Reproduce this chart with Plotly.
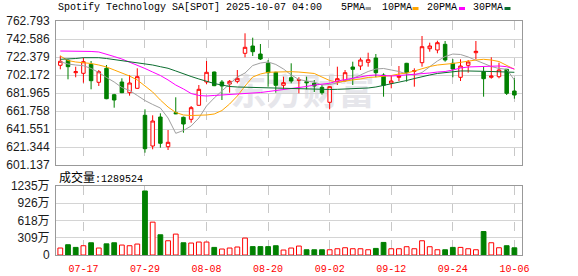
import plotly.graph_objects as go

# ---------------- data ----------------
dates = ["07-14", "07-15", "07-16", "07-17", "07-18", "07-21", "07-22", "07-23", "07-24", "07-25",
         "07-28", "07-29", "07-30", "07-31", "08-01", "08-04", "08-05", "08-06", "08-07", "08-08",
         "08-11", "08-12", "08-13", "08-14", "08-15", "08-18", "08-19", "08-20", "08-21", "08-22",
         "08-25", "08-26", "08-27", "08-28", "08-29", "09-02", "09-03", "09-04", "09-05", "09-08",
         "09-09", "09-10", "09-11", "09-12", "09-15", "09-16", "09-17", "09-18", "09-19", "09-22",
         "09-23", "09-24", "09-25", "09-26", "09-29", "09-30", "10-01", "10-02", "10-03", "10-06"]

opens = [713.06, 718.67, 704.75, 704.08, 714.18, 693.97, 709.69, 680.05, 694.31, 682.30,
         687.24, 656.93, 622.47, 655.02, 621.68, 659.85, 654.69, 652.44, 668.15, 694.31,
         705.54, 694.31, 692.07, 695.10, 726.53, 734.73, 725.75, 715.30, 705.20, 690.61,
         699.14, 696.22, 694.65, 692.85, 688.36, 671.52, 694.65, 695.77, 711.15, 712.27,
         716.43, 721.25, 702.17, 692.85, 699.59, 715.30, 706.32, 715.98, 731.69, 730.23,
         736.63, 715.30, 699.59, 713.06, 727.20, 705.87, 699.59, 700.26, 708.57, 684.21]
highs = [723.84, 719.80, 711.49, 721.59, 717.89, 707.78, 713.40, 681.00, 698.47, 702.17,
         709.69, 663.66, 656.93, 659.17, 640.43, 677.14, 655.50, 667.37, 690.94, 717.89,
         706.00, 696.56, 696.56, 707.78, 748.98, 744.04, 736.97, 719.01, 705.80, 700.26,
         715.30, 699.59, 700.26, 696.56, 690.94, 689.50, 711.49, 707.78, 717.10, 721.59,
         727.20, 725.75, 704.08, 702.17, 712.27, 715.80, 709.69, 745.95, 738.43, 740.67,
         740.34, 720.13, 719.80, 719.01, 740.34, 711.49, 722.04, 715.98, 709.00, 698.47]
lows = [708.57, 697.34, 699.59, 693.53, 686.12, 689.82, 675.00, 665.46, 681.80, 678.93,
        686.80, 614.94, 618.76, 620.56, 617.98, 658.20, 637.40, 648.62, 667.70, 691.73,
        689.70, 674.10, 682.30, 692.85, 722.04, 723.50, 719.01, 689.04, 682.30, 686.79,
        692.85, 681.63, 686.12, 683.09, 680.05, 663.66, 690.94, 694.65, 690.94, 707.78,
        711.49, 699.59, 677.81, 687.24, 695.43, 694.65, 689.04, 711.49, 728.33, 726.53,
        717.10, 699.59, 695.43, 704.75, 719.80, 677.81, 698.02, 698.47, 679.72, 675.56]
closes = [717.55, 711.49, 705.87, 717.10, 695.77, 705.87, 675.56, 674.10, 682.30, 693.19,
          700.26, 619.43, 650.53, 625.50, 626.62, 658.72, 647.16, 665.46, 686.12, 705.20,
          690.16, 689.82, 695.10, 698.47, 733.27, 728.33, 720.13, 704.75, 690.61, 693.53,
          695.43, 696.89, 693.53, 689.82, 682.30, 689.04, 698.02, 704.75, 708.57, 719.01,
          719.30, 704.75, 690.61, 695.43, 701.05, 704.75, 707.00, 733.94, 734.73, 738.43,
          719.01, 708.91, 712.27, 716.76, 728.78, 698.02, 701.05, 707.78, 681.63, 679.72]

ma5 = [717.1, 714.5, 713.4, 712.6, 709.5, 705.0, 699.4, 694.3, 688.1, 684.8,
       679.2, 673.5, 669.1, 665.1, 653.9, 636.7, 639.9, 644.9, 653.9, 667.4,
       676.4, 684.2, 692.1, 699.9, 704.4, 712.8, 715.6, 716.8, 714.0, 708.9,
       702.2, 697.1, 695.4, 694.3, 690.9, 691.5, 693.2, 696.0, 698.2, 702.2,
       706.1, 708.9, 709.5, 707.8, 706.1, 703.3, 702.2, 705.0, 711.7, 717.9,
       722.9, 725.7, 725.2, 722.4, 718.7, 715.1, 711.7, 709.5, 708.6, 696.6]
ma10 = [723.5, 718.4, 716.8, 716.0, 715.1, 713.4, 711.2, 707.8, 704.4, 701.0,
        696.6, 689.8, 683.1, 674.1, 666.2, 660.1, 657.3, 656.7, 656.7, 657.3,
        658.4, 662.3, 669.6, 678.6, 689.8, 699.9, 703.3, 705.2, 705.5, 705.8,
        705.9, 705.5, 705.0, 703.9, 699.9, 696.0, 694.0, 694.9, 696.6, 697.7,
        699.4, 699.9, 700.5, 701.6, 703.3, 704.4, 706.7, 709.5, 711.7, 713.4,
        714.0, 715.1, 716.4, 717.9, 719.0, 719.8, 719.0, 717.3, 713.4, 708.6]
ma20 = [729.1, 729.1, 729.1, 728.9, 728.6, 728.0, 725.7, 722.9, 720.1, 716.8,
        712.8, 709.5, 705.5, 701.6, 696.6, 690.9, 686.5, 681.4, 679.2, 678.6,
        679.2, 679.7, 680.3, 680.8, 681.4, 682.0, 682.5, 683.6, 684.8, 685.9,
        686.7, 687.6, 689.3, 690.9, 692.1, 692.9, 695.4, 697.1, 698.8, 700.3,
        701.6, 702.2, 701.6, 701.0, 701.6, 702.2, 702.7, 703.3, 704.4, 705.5,
        706.1, 707.8, 710.0, 711.2, 711.5, 711.7, 712.0, 712.3, 711.5, 708.9]
ma30 = [719.8, 720.1, 720.7, 721.6, 721.6, 721.6, 720.7, 719.6, 718.4, 717.3,
        716.4, 715.1, 713.4, 711.5, 709.7, 706.7, 703.3, 700.5, 697.7, 694.9,
        692.6, 690.9, 689.3, 688.7, 688.4, 688.4, 688.4, 688.1, 687.8, 687.6,
        687.2, 687.0, 686.5, 686.1, 685.9, 685.9, 686.1, 686.5, 686.8, 687.0,
        687.6, 688.7, 690.4, 692.1, 694.3, 696.0, 698.2, 700.5, 702.2, 703.9,
        705.0, 706.1, 706.7, 706.7, 706.7, 706.4, 706.1, 705.8, 705.5, 705.2]

volumes = [1250000, 1840000, 1360000, 1660000, 2190000, 1250000, 2000000, 2190000, 1780000, 1660000,
           1960000, 11460000, 5880000, 3620000, 2550000, 3740000, 2190000, 2140000, 2320000, 2320000,
           1360000, 1070000, 1250000, 1430000, 3030000, 1500000, 1500000, 1500000, 1660000, 890000,
           1250000, 1600000, 940000, 940000, 940000, 940000, 1120000, 1300000, 1120000, 1120000,
           940000, 1180000, 2250000, 1120000, 1120000, 1480000, 1120000, 2550000, 1480000, 940000,
           940000, 1360000, 1360000, 1120000, 940000, 4200000, 2190000, 1300000, 1660000, 1289524]
vol_up = [1, 0, 0, 1, 0, 1, 0, 0, 1, 1,
          1, 0, 1, 0, 1, 1, 0, 1, 1, 1,
          0, 1, 1, 1, 1, 0, 0, 0, 0, 1,
          1, 1, 0, 0, 0, 1, 1, 1, 1, 1,
          1, 0, 0, 1, 1, 1, 1, 1, 1, 1,
          0, 0, 1, 1, 1, 0, 1, 1, 0, 0]

price_ticks = [601.137, 621.344, 641.551, 661.758, 681.965, 702.172, 722.379, 742.586, 762.793]
vol_ticks = [0, 3087500, 6175000, 9262500, 12350000]
vol_tick_text = ["0", "309万", "618万", "926万", "1235万"]
date_ticks = ["07-17", "07-29", "08-08", "08-20", "09-02", "09-12", "09-24", "10-06"]
title_text = "Spotify Technology SA[SPOT] 2025-10-07 04:00"
legend_names = ["5PMA", "10PMA", "20PMA", "30PMA"]
last_volume = 1289524

# ---------------- styles ----------------
RED = "#ff0000"
GREEN = "#008000"
MA_COLORS = ["#a0a0a0", "#ffa500", "#ff00ff", "#0b6e2f"]
W, H = 578, 276
L, R, T, B = 56, 56, 21, 21
PW, PH = W - L - R, H - T - B


def px_x(px):
    return (px - L) / PW


def px_y(py):
    return (H - B - py) / PH


fig = go.Figure()

fig.add_trace(go.Candlestick(
    x=dates, open=opens, high=highs, low=lows, close=closes,
    increasing=dict(line=dict(color=RED, width=1), fillcolor="#ffffff"),
    decreasing=dict(line=dict(color=GREEN, width=1), fillcolor=GREEN),
    whiskerwidth=0, xaxis="x", yaxis="y", showlegend=False, hoverinfo="skip",
))

for name, vals, col in zip(legend_names, [ma5, ma10, ma20, ma30], MA_COLORS):
    fig.add_trace(go.Scatter(x=dates, y=vals, mode="lines", name=name,
                             line=dict(color=col, width=1), xaxis="x", yaxis="y",
                             showlegend=False, hoverinfo="skip"))

vol_fill = ["#ffffff" if u else GREEN for u in vol_up]
vol_line = [RED if u else GREEN for u in vol_up]
fig.add_trace(go.Bar(x=dates, y=volumes, width=0.62,
                     marker=dict(color=vol_fill, line=dict(color=vol_line, width=1)),
                     xaxis="x2", yaxis="y2", showlegend=False, hoverinfo="skip"))

axis_common = dict(showline=True, mirror=True, linecolor="#999999", linewidth=1,
                   zeroline=False, ticks="", automargin=False)
xr = [-0.56, len(dates) - 1 + 0.99]

fig.update_layout(
    width=W, height=H,
    margin=dict(l=L, r=R, t=T, b=B, pad=0, autoexpand=False),
    paper_bgcolor="#ffffff", plot_bgcolor="#ffffff",
    boxgap=0.35,
    xaxis=dict(domain=[0, 1], anchor="y", type="category", range=xr,
               tickvals=date_ticks, showticklabels=False,
               showgrid=True, gridcolor="#c8c8c8", griddash="dash", gridwidth=1,
               rangeslider=dict(visible=False), **axis_common),
    yaxis=dict(domain=[px_y(165), 1], anchor="x", range=[price_ticks[0], price_ticks[-1]],
               tickvals=price_ticks, ticktext=[f"{v:.3f}" for v in price_ticks],
               tickfont=dict(family="Liberation Sans, Arial", size=12, color="#1a1a1a"),
               showgrid=True, gridcolor="#d4d4d4", gridwidth=1, ticklabelstandoff=3,
               **axis_common),
    xaxis2=dict(domain=[0, 1], anchor="y2", type="category", range=xr, matches="x",
                tickvals=date_ticks, ticktext=date_ticks,
                tickfont=dict(family="Liberation Mono, monospace", size=10, color=RED),
                showgrid=True, gridcolor="#c8c8c8", griddash="dash", gridwidth=1,
                ticklabelstandoff=4, **axis_common),
    yaxis2=dict(domain=[0, px_y(186)], anchor="x2", range=[0, vol_ticks[-1]],
                tickvals=vol_ticks, ticktext=vol_tick_text,
                tickfont=dict(family="Liberation Sans, Noto Sans CJK SC", size=12, color="#1a1a1a"),
                showgrid=True, gridcolor="#d4d4d4", gridwidth=1, ticklabelstandoff=3,
                **axis_common),
    barmode="overlay",
)

annotations = [
    dict(text=title_text, x=px_x(56), y=px_y(8), xref="paper", yref="paper",
         xanchor="left", yanchor="middle", showarrow=False,
         font=dict(family="Liberation Mono, monospace", size=10, color="#000000")),
    dict(text=f"<span style='font-size:12px'>成交量</span>:{last_volume}",
         x=px_x(57), y=px_y(178), xref="paper", yref="paper",
         xanchor="left", yanchor="middle", showarrow=False,
         font=dict(family="Liberation Mono, Noto Sans CJK SC", size=10, color="#000000")),
]
legend_text_px = [338.7, 379.7, 425.3, 471.3]
legend_dash_px = [(365.5, 371.0), (412.5, 418.5), (459.0, 465.0), (504.5, 510.5)]
shapes = []
for name, tx, (d0, d1), col in zip(legend_names, legend_text_px, legend_dash_px, MA_COLORS):
    annotations.append(dict(text=name, x=px_x(tx), y=px_y(8), xref="paper", yref="paper",
                            xanchor="left", yanchor="middle", showarrow=False,
                            font=dict(family="Liberation Mono, monospace", size=10, color="#000000")))
    shapes.append(dict(type="line", xref="paper", yref="paper",
                       x0=px_x(d0), x1=px_x(d1), y0=px_y(8.5), y1=px_y(8.5),
                       line=dict(color=col, width=3)))

# watermark
shapes.append(dict(type="rect", xref="paper", yref="paper",
                   x0=px_x(215), x1=px_x(390), y0=px_y(115), y1=px_y(75),
                   line=dict(width=0), fillcolor="rgba(0,0,0,0)", layer="between",
                   label=dict(text="<b>东方财富</b>", textposition="middle center",
                              font=dict(family="Noto Sans CJK SC", size=36, color="#e6e6eb"))))

fig.update_layout(annotations=annotations, shapes=shapes)

fig.write_html("out.html")
